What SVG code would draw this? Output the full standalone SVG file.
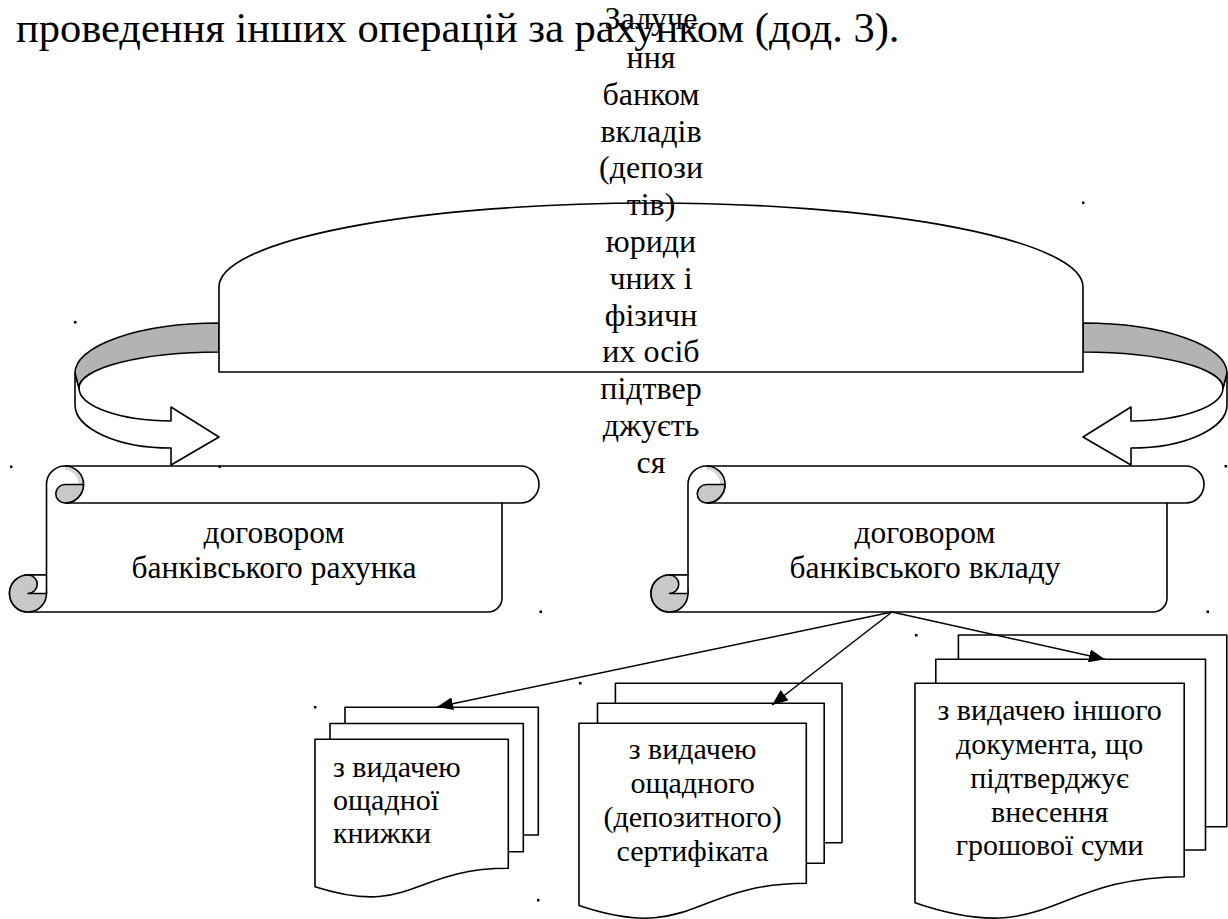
<svg xmlns="http://www.w3.org/2000/svg" xmlns:xlink="http://www.w3.org/1999/xlink" width="1228" height="919" viewBox="0 0 1228 919">
<defs>
<style>
.wf{fill:#fff;stroke:#000;stroke-width:1.6;stroke-linejoin:round}
.ln{fill:none;stroke:#000;stroke-width:1.6}
.gf{fill:#b3b3b3;stroke:#000;stroke-width:1.6;stroke-linejoin:round}
.cf{fill:#c8c8c8;stroke:#000;stroke-width:1.6;stroke-linejoin:round}
.sl{fill:#d6d6d6;stroke:none}
.cn{fill:none;stroke:#000;stroke-width:1.5}
.t{font-family:"Liberation Serif","Times New Roman",serif;fill:#000}
.c{text-anchor:middle}
.dot{fill:#000}
</style>
<marker id="ah" markerUnits="userSpaceOnUse" markerWidth="17" markerHeight="13" refX="16" refY="6.5" orient="auto" viewBox="0 0 17 13"><path d="M0,0 L16,6.5 L0,13 Z" fill="#000"/></marker>
<g id="ribbonShape">
<path class="wf" d="M75,373 L75,405 A96 43 0 0 0 171,448 L171,465 L219,437 L171,407 L171,421 A92 33 0 0 1 79,388 Z"/>
<path class="gf" d="M219,323 A144 50 0 0 0 75,373 L79,388 A140 36 0 0 1 219,352 Z"/>
</g>
</defs>
<rect width="1228" height="919" fill="#fff"/>

<text class="t" x="16" y="42" font-size="42.5">проведення інших операцій за рахунком (дод. 3).</text>

<g id="ribbon-left"><use xlink:href="#ribbonShape" href="#ribbonShape"/></g>
<g id="ribbon-right" transform="translate(1302 0) scale(-1 1)"><use xlink:href="#ribbonShape" href="#ribbonShape"/></g>

<g id="node-dome">
<path class="wf" d="M219,372 L219,287 A432 84 0 0 1 1083,287 L1083,372 Z"/>
</g>

<g id="node-scroll-left">
<path class="wf" d="M65,466 L520.5,466 A18.5 18.5 0 0 1 520.5,503 L502,503 L502,598 A14 14 0 0 1 488,612 L28,612 A18.5 18.5 0 0 1 28,575 L46.5,575 L46.5,484.5 A18.5 18.5 0 0 1 65,466 Z"/>
<path class="ln" d="M65,503 L502,503"/>
<path class="sl" d="M65,467 A17.5 17.5 0 0 1 82.5,484.5 L78.5,484.5 A14 14 0 0 0 65,470 Z"/>
<path class="ln" d="M65,466 A18.5 18.5 0 0 1 65,503"/>
<path class="cf" d="M65,484.5 L83.5,484.5 A18.5 18.5 0 0 1 65,503 A9.25 9.25 0 0 1 65,484.5 Z"/>
<circle class="cf" cx="28" cy="593.5" r="18.5"/>
<path class="wf" d="M28,575 L46.5,575 L46.5,593.5 L28,593.5 A9.25 9.25 0 0 0 28,575 Z"/>
<text class="t c" x="274" y="543" font-size="31.5">договором</text>
<text class="t c" x="274" y="578" font-size="31.5">банківського рахунка</text>
</g>

<g id="node-scroll-right">
<path class="wf" d="M706.5,466 L1185.5,466 A18.5 18.5 0 0 1 1185.5,503 L1167,503 L1167,598 A14 14 0 0 1 1153,612 L669.5,612 A18.5 18.5 0 0 1 669.5,575 L688,575 L688,484.5 A18.5 18.5 0 0 1 706.5,466 Z"/>
<path class="ln" d="M706.5,503 L1167,503"/>
<path class="sl" d="M706.5,467 A17.5 17.5 0 0 1 724,484.5 L720,484.5 A14 14 0 0 0 706.5,470 Z"/>
<path class="ln" d="M706.5,466 A18.5 18.5 0 0 1 706.5,503"/>
<path class="cf" d="M706.5,484.5 L725,484.5 A18.5 18.5 0 0 1 706.5,503 A9.25 9.25 0 0 1 706.5,484.5 Z"/>
<circle class="cf" cx="669.5" cy="593.5" r="18.5"/>
<path class="wf" d="M669.5,575 L688,575 L688,593.5 L669.5,593.5 A9.25 9.25 0 0 0 669.5,575 Z"/>
<text class="t c" x="925" y="543" font-size="31.5">договором</text>
<text class="t c" x="925" y="578" font-size="31.5">банківського вкладу</text>
</g>

<g id="node-doc1">
<rect class="wf" x="345" y="707.3" width="193.3" height="127.7"/>
<rect class="wf" x="330" y="723.5" width="193.3" height="128.2"/>
<path class="wf" d="M315,739.3 L508.3,739.3 L508.3,868.3 C411.6,868.3 411.6,917.7 315,886.7 Z"/>
<text class="t" x="333" y="776.7" font-size="30">з видачею</text>
<text class="t" x="333" y="810" font-size="30">ощадної</text>
<text class="t" x="333" y="843.3" font-size="30">книжки</text>
</g>

<g id="node-doc2">
<rect class="wf" x="615.4" y="683.3" width="226.6" height="159.4"/>
<rect class="wf" x="597.5" y="703.3" width="226.7" height="160"/>
<path class="wf" d="M579,723.3 L806.3,723.3 L806.3,883.3 C692.6,883.3 692.6,943.8 579,905.5 Z"/>
<text class="t c" x="692.6" y="759" font-size="30">з видачею</text>
<text class="t c" x="692.6" y="793" font-size="30">ощадного</text>
<text class="t c" x="692.6" y="827" font-size="30">(депозитного)</text>
<text class="t c" x="692.6" y="861" font-size="30">сертифіката</text>
</g>

<g id="node-doc3">
<rect class="wf" x="958.4" y="635" width="268.4" height="191.7"/>
<rect class="wf" x="935.8" y="659.3" width="269.7" height="190.7"/>
<path class="wf" d="M915,683.3 L1184.2,683.3 L1184.2,876.7 C1049.6,876.7 1049.6,948.9 915,902.8 Z"/>
<text class="t c" x="1049.6" y="720" font-size="30">з видачею іншого</text>
<text class="t c" x="1049.6" y="754" font-size="30">документа, що</text>
<text class="t c" x="1049.6" y="788" font-size="30">підтверджує</text>
<text class="t c" x="1049.6" y="821.7" font-size="30">внесення</text>
<text class="t c" x="1049.6" y="855" font-size="30">грошової суми</text>
</g>

<g id="connectors">
<line class="cn" x1="892" y1="612" x2="437" y2="707" marker-end="url(#ah)"/>
<line class="cn" x1="892" y1="612" x2="772" y2="705" marker-end="url(#ah)"/>
<line class="cn" x1="892" y1="612" x2="1105" y2="659.3" marker-end="url(#ah)"/>
</g>

<g id="node-center-text">
<text class="t c" x="651" y="28.5" font-size="32">Залуче</text>
<text class="t c" x="651" y="67.5" font-size="32">ння</text>
<text class="t c" x="651" y="105" font-size="32">банком</text>
<text class="t c" x="651" y="141.7" font-size="32">вкладів</text>
<text class="t c" x="651" y="178.3" font-size="32">(депози</text>
<text class="t c" x="651" y="215" font-size="32">тів)</text>
<text class="t c" x="651" y="252" font-size="32">юриди</text>
<text class="t c" x="651" y="289" font-size="32">чних і</text>
<text class="t c" x="651" y="326" font-size="32">фізичн</text>
<text class="t c" x="651" y="362" font-size="32">их осіб</text>
<text class="t c" x="651" y="399" font-size="32">підтвер</text>
<text class="t c" x="651" y="436" font-size="32">джуєть</text>
<text class="t c" x="651" y="473" font-size="32">ся</text>
</g>

<g id="marks">
<rect class="dot" x="74" y="321" width="2.5" height="2.5"/>
<rect class="dot" x="10" y="465.5" width="2.5" height="2.5"/>
<rect class="dot" x="218.5" y="465.5" width="2.5" height="2.5"/>
<rect class="dot" x="539.5" y="610.5" width="2.5" height="2.5"/>
<rect class="dot" x="1082" y="201.5" width="2.5" height="2.5"/>
<rect class="dot" x="1224.5" y="465" width="2.5" height="2.5"/>
<rect class="dot" x="1206.5" y="610.5" width="2.5" height="2.5"/>
<rect class="dot" x="314" y="706" width="2.5" height="2.5"/>
<rect class="dot" x="579" y="682" width="2.5" height="2.5"/>
<rect class="dot" x="915" y="634" width="2.5" height="2.5"/>
<rect class="dot" x="537" y="899" width="2.5" height="2.5"/>
</g>
</svg>
